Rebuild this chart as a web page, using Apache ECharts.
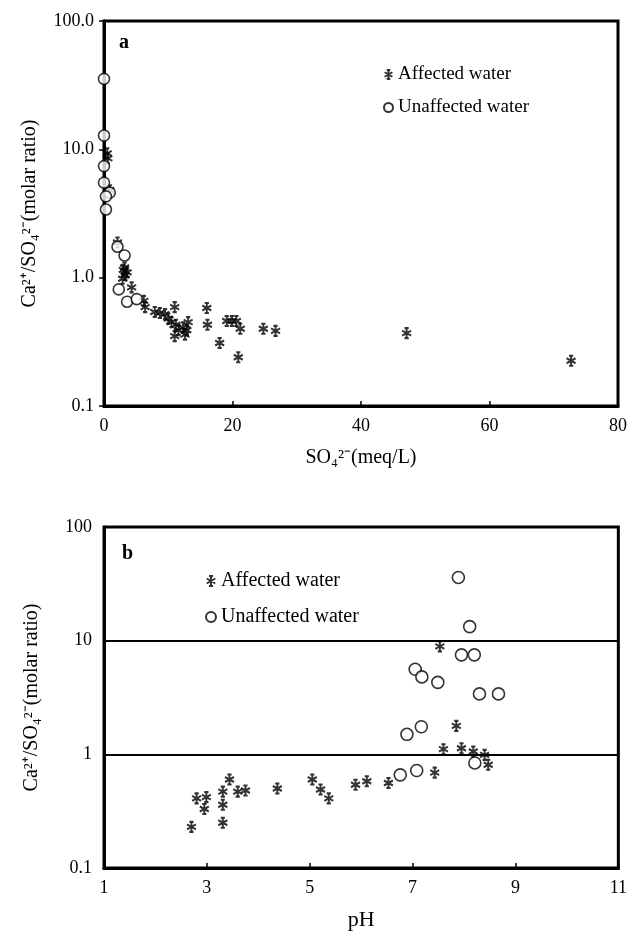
<!DOCTYPE html>
<html>
<head>
<meta charset="UTF-8">
<script src="https://cdn.jsdelivr.net/npm/echarts@6/dist/echarts.min.js"></script>
<style>
html, body { margin: 0; padding: 0; background: #fff; }
#container { width: 630px; height: 932px; }
</style>
</head>
<body>
<div id="container"></div>
<script type="text/javascript">
// panel a: Ca/SO4 ratio against SO4 (meq/L)
var affectedSO4 = [0.5, 0.6, 0.9, 2.1, 3.0, 3.3, 3.6, 2.9, 3.2, 4.3, 6.2, 6.4, 7.9, 8.7, 9.5, 10.0, 10.5, 11.0, 11.2, 11.0, 11.6, 12.3, 12.9, 13.1, 12.6, 16.0, 16.1, 18.0, 19.1, 19.9, 20.6, 21.2, 20.9, 24.8, 26.7, 47.1, 72.7];
var affectedRatioA = [9.3, 8.5, 4.8, 1.88, 1.15, 1.05, 1.1, 0.98, 1.2, 0.84, 0.66, 0.59, 0.54, 0.53, 0.52, 0.48, 0.45, 0.59, 0.43, 0.35, 0.39, 0.41, 0.39, 0.45, 0.36, 0.58, 0.43, 0.31, 0.46, 0.46, 0.46, 0.40, 0.24, 0.40, 0.385, 0.37, 0.225];
var unaffectedSO4 = [0, 0, 0, 0, 0.9, 0.3, 0.3, 2.1, 3.2, 2.3, 3.6, 5.1];
var unaffectedRatioA = [35.4, 12.8, 7.4, 5.5, 4.6, 4.3, 3.4, 1.74, 1.49, 0.81, 0.65, 0.68];

// panel b: Ca/SO4 ratio against pH
var affectedPH = [2.70, 2.95, 2.99, 2.80, 3.31, 3.31, 3.31, 3.44, 3.60, 3.75, 4.37, 5.05, 5.21, 5.37, 5.89, 6.11, 6.53, 7.43, 7.53, 7.60, 7.85, 7.95, 8.18, 8.40, 8.47];
var affectedRatioB = [0.23, 0.33, 0.42, 0.41, 0.25, 0.36, 0.47, 0.60, 0.47, 0.48, 0.50, 0.60, 0.49, 0.41, 0.54, 0.58, 0.56, 0.69, 8.9, 1.11, 1.78, 1.13, 1.06, 0.99, 0.81];
var unaffectedPH = [7.89, 8.11, 7.95, 8.20, 7.05, 7.18, 7.49, 8.30, 8.67, 6.89, 7.17, 8.21, 6.76, 7.08];
var unaffectedRatioB = [36, 13.3, 7.5, 7.5, 5.6, 4.8, 4.3, 3.4, 3.4, 1.5, 1.75, 0.84, 0.66, 0.72];

var legendNames = ['Affected water', 'Unaffected water'];

function zip(xs, ys) {
    return xs.map(function (x, i) { return [x, ys[i]]; });
}

var serif = 'Liberation Serif';
var star = 'path://M5,0L5,10M0.7,2.5L9.3,7.5M0.7,7.5L9.3,2.5M3,0L7,0M3,10L7,10';
var starStyle = { color: '#000', borderColor: '#000', borderWidth: 2 };
var ringStyle = { color: '#fff', borderColor: '#000', borderWidth: 1.6 };
var yName = 'Ca²⁺/SO₄²⁻(molar ratio)';

var myChart = echarts.init(document.getElementById('container'));
var option = {
    animation: false,
    backgroundColor: '#fff',
    grid: [
        { left: 104, top: 21, width: 514, height: 385, show: true, borderColor: '#000', borderWidth: 3 },
        { left: 104, top: 527, width: 517, height: 341, show: true, borderColor: '#000', borderWidth: 3 }
    ],
    legend: [
        {
            data: legendNames, orient: 'vertical', left: 378, top: 60, itemGap: 14,
            itemWidth: 9, itemHeight: 9,
            textStyle: { fontFamily: serif, fontSize: 19, color: '#000' }
        },
        {
            data: legendNames, orient: 'vertical', left: 200, top: 566, itemGap: 16,
            itemWidth: 10, itemHeight: 10,
            textStyle: { fontFamily: serif, fontSize: 20, color: '#000' }
        }
    ],
    xAxis: [
        {
            gridIndex: 0, type: 'value', min: 0, max: 80, interval: 20,
            name: 'SO₄²⁻(meq/L)', nameLocation: 'middle', nameGap: 42,
            nameTextStyle: { fontFamily: serif, fontSize: 20, color: '#000' },
            axisLine: { onZero: false, lineStyle: { color: '#000', width: 3 } },
            axisTick: { inside: true, length: 5, lineStyle: { color: '#000', width: 1.5 } },
            axisLabel: { margin: 11, fontFamily: serif, fontSize: 18, color: '#000' },
            splitLine: { show: false }
        },
        {
            gridIndex: 1, type: 'value', min: 1, max: 11, interval: 2,
            name: 'pH', nameLocation: 'middle', nameGap: 41,
            nameTextStyle: { fontFamily: serif, fontSize: 22, color: '#000' },
            axisLine: { onZero: false, lineStyle: { color: '#000', width: 3 } },
            axisTick: { inside: true, length: 5, lineStyle: { color: '#000', width: 1.5 } },
            axisLabel: { margin: 11, fontFamily: serif, fontSize: 18, color: '#000' },
            splitLine: { show: false }
        }
    ],
    yAxis: [
        {
            gridIndex: 0, type: 'log', logBase: 10, min: 0.1, max: 100,
            name: yName, nameLocation: 'middle', nameGap: 64,
            nameTextStyle: { fontFamily: serif, fontSize: 20, color: '#000' },
            axisLine: { lineStyle: { color: '#000', width: 3 } },
            axisTick: { length: 5, lineStyle: { color: '#000', width: 1.5 } },
            axisLabel: {
                margin: 10, fontFamily: serif, fontSize: 18, color: '#000',
                formatter: function (v) { return Number(v).toFixed(1); }
            },
            splitLine: { show: false }
        },
        {
            gridIndex: 1, type: 'log', logBase: 10, min: 0.1, max: 100,
            name: yName, nameLocation: 'middle', nameGap: 62,
            nameTextStyle: { fontFamily: serif, fontSize: 20, color: '#000' },
            axisLine: { lineStyle: { color: '#000', width: 3 } },
            axisTick: { show: false },
            axisLabel: {
                margin: 12, fontFamily: serif, fontSize: 18, color: '#000',
                formatter: function (v) { return String(+Number(v).toPrecision(3)); }
            },
            splitLine: { show: true, lineStyle: { color: '#000', width: 1.8 } }
        }
    ],
    series: [
        {
            name: 'Affected water', type: 'scatter', xAxisIndex: 0, yAxisIndex: 0, clip: false,
            symbol: star, symbolSize: [9, 10], itemStyle: starStyle,
            data: zip(affectedSO4, affectedRatioA)
        },
        {
            name: 'Unaffected water', type: 'scatter', xAxisIndex: 0, yAxisIndex: 0, clip: false,
            symbol: 'circle', symbolSize: 11, itemStyle: ringStyle,
            data: zip(unaffectedSO4, unaffectedRatioA)
        },
        {
            name: 'Affected water', type: 'scatter', xAxisIndex: 1, yAxisIndex: 1, clip: false,
            symbol: star, symbolSize: [9, 10], itemStyle: starStyle,
            data: zip(affectedPH, affectedRatioB)
        },
        {
            name: 'Unaffected water', type: 'scatter', xAxisIndex: 1, yAxisIndex: 1, clip: false,
            symbol: 'circle', symbolSize: 12, itemStyle: ringStyle,
            data: zip(unaffectedPH, unaffectedRatioB)
        }
    ],
    graphic: [
        { type: 'text', left: 119, top: 33, style: { text: 'a', font: 'bold 20px "Liberation Serif"', fill: '#000' } },
        { type: 'text', left: 122, top: 544, style: { text: 'b', font: 'bold 20px "Liberation Serif"', fill: '#000' } }
    ]
};
myChart.setOption(option);
</script>
</body>
</html>
